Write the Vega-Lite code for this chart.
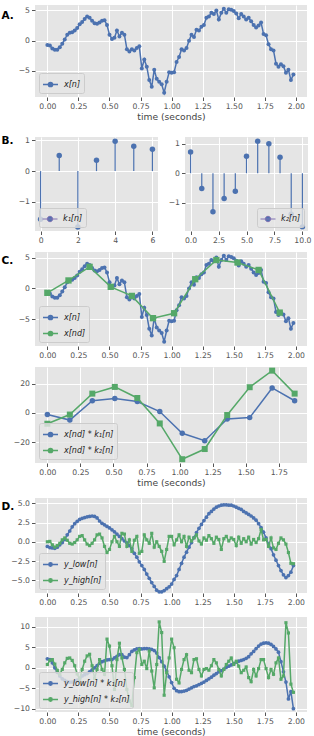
{
"$schema": "https://vega.github.io/schema/vega-lite/v6.json",
"padding": {"left": 1, "top": 5, "right": 5, "bottom": 0},
"datasets": {
"xn": [{"t":0,"v":-0.7},{"t":0.02,"v":-0.8},{"t":0.04,"v":-1.3},{"t":0.06,"v":-1.5},{"t":0.08,"v":-1.5},{"t":0.1,"v":-1.1},{"t":0.12,"v":-0.5},{"t":0.14,"v":0.2},{"t":0.16,"v":1.0},{"t":0.18,"v":1.3},
{"t":0.2,"v":1.4},{"t":0.22,"v":1.7},{"t":0.24,"v":2.1},{"t":0.26,"v":2.7},{"t":0.28,"v":3.1},{"t":0.3,"v":3.6},{"t":0.32,"v":4.0},{"t":0.34,"v":3.8},{"t":0.36,"v":3.3},{"t":0.38,"v":2.9},
{"t":0.4,"v":2.8},{"t":0.42,"v":3.0},{"t":0.44,"v":3.3},{"t":0.46,"v":3.4},{"t":0.48,"v":2.6},{"t":0.5,"v":1.0},{"t":0.52,"v":0.3},{"t":0.54,"v":0.5},{"t":0.56,"v":1.7},{"t":0.58,"v":0.7},
{"t":0.6,"v":1.3},{"t":0.62,"v":1.0},{"t":0.64,"v":-1.4},{"t":0.66,"v":-1.8},{"t":0.68,"v":-1.4},{"t":0.7,"v":-1.6},{"t":0.72,"v":-1.2},{"t":0.74,"v":-0.9},{"t":0.76,"v":-4.6},{"t":0.78,"v":-3.1},
{"t":0.8,"v":-4.3},{"t":0.82,"v":-6.5},{"t":0.84,"v":-7.6},{"t":0.86,"v":-4.8},{"t":0.88,"v":-6.3},{"t":0.9,"v":-6.8},{"t":0.92,"v":-7.2},{"t":0.94,"v":-8.6},{"t":0.96,"v":-6.8},{"t":0.98,"v":-5.2},
{"t":1.0,"v":-5.3},{"t":1.02,"v":-5.2},{"t":1.04,"v":-3.5},{"t":1.06,"v":-2.7},{"t":1.08,"v":-1.4},{"t":1.1,"v":-1.6},{"t":1.12,"v":-1.2},{"t":1.14,"v":0.0},{"t":1.16,"v":1.0},{"t":1.18,"v":0.6},
{"t":1.2,"v":1.8},{"t":1.22,"v":1.7},{"t":1.24,"v":2.3},{"t":1.26,"v":2.6},{"t":1.28,"v":3.8},{"t":1.3,"v":4.0},{"t":1.32,"v":4.6},{"t":1.34,"v":4.4},{"t":1.36,"v":5.0},{"t":1.38,"v":3.5},
{"t":1.4,"v":4.6},{"t":1.42,"v":5.3},{"t":1.44,"v":4.6},{"t":1.46,"v":5.2},{"t":1.48,"v":5.1},{"t":1.5,"v":4.9},{"t":1.52,"v":4.5},{"t":1.54,"v":3.7},{"t":1.56,"v":4.4},{"t":1.58,"v":4.0},
{"t":1.6,"v":3.5},{"t":1.62,"v":3.8},{"t":1.64,"v":3.2},{"t":1.66,"v":2.6},{"t":1.68,"v":2.2},{"t":1.7,"v":2.5},{"t":1.72,"v":3.0},{"t":1.74,"v":1.1},{"t":1.76,"v":0.9},{"t":1.78,"v":-0.6},
{"t":1.8,"v":-1.4},{"t":1.82,"v":-1.6},{"t":1.84,"v":-3.8},{"t":1.86,"v":-4.3},{"t":1.88,"v":-3.9},{"t":1.9,"v":-4.2},{"t":1.92,"v":-5.3},{"t":1.94,"v":-4.8},{"t":1.96,"v":-6.5},{"t":1.98,"v":-5.6}],
"xnd": [{"t":0,"v":-0.7},{"t":0.17,"v":1.3},{"t":0.34,"v":3.5},{"t":0.51,"v":0.27},{"t":0.68,"v":-1.2},{"t":0.85,"v":-4.8},{"t":1.02,"v":-4.0},{"t":1.19,"v":1.5},{"t":1.36,"v":4.6},{"t":1.53,"v":4.2},{"t":1.7,"v":3.0},{"t":1.87,"v":-3.9}],
"k1": [{"n":0,"v":-1.57},{"n":1,"v":0.51},{"n":2,"v":-1.82},{"n":3,"v":0.35},{"n":4,"v":0.97},{"n":5,"v":0.81},{"n":6,"v":0.71}],
"k2": [{"n":0,"v":0.72},{"n":1,"v":-0.52},{"n":2,"v":-1.31},{"n":3,"v":-0.86},{"n":4,"v":-0.61},{"n":5,"v":0.58},{"n":6,"v":1.09},{"n":7,"v":1.0},{"n":8,"v":0.54},{"n":9,"v":-1.39},{"n":10,"v":-1.82}],
"conv": [{"t":0,"a":-1.1,"b":-7.4},{"t":0.17,"a":-4.9,"b":-1.1},{"t":0.34,"a":8.4,"b":13.3},{"t":0.51,"a":10.0,"b":17.9},{"t":0.68,"a":7.9,"b":10.3},{"t":0.85,"a":1.0,"b":-7.2},{"t":1.02,"a":-14.0,"b":-31.8},{"t":1.19,"a":-19.1,"b":-24.8},{"t":1.36,"a":-4.2,"b":-1.4},{"t":1.53,"a":-3.2,"b":17.7},{"t":1.7,"a":17.2,"b":29.1},{"t":1.87,"a":8.4,"b":13.3}],
"d": [{"t":0,"lo":-0.6,"hi":0,"lk":2.2,"hk":0.8},{"t":0.02,"lo":-0.75,"hi":0.05,"lk":2,"hk":1.8},{"t":0.04,"lo":-0.8,"hi":-0.4,"lk":1.2,"hk":2},{"t":0.06,"lo":-0.85,"hi":-0.7,"lk":0,"hk":0.9},{"t":0.08,"lo":-0.7,"hi":-0.5,"lk":-1.1,"hk":-0.6},{"t":0.1,"lo":-0.4,"hi":-0.2,"lk":-2,"hk":-1.6},{"t":0.12,"lo":-0.1,"hi":0.25,"lk":-2.7,"hk":-0.4},{"t":0.14,"lo":0.3,"hi":0.5,"lk":-3.1,"hk":1.2},{"t":0.16,"lo":0.9,"hi":0.2,"lk":-3.4,"hk":2.3},{"t":0.18,"lo":1.4,"hi":-0.2,"lk":-3.5,"hk":2.4},
{"t":0.2,"lo":1.95,"hi":-0.3,"lk":-3.5,"hk":1.8},{"t":0.22,"lo":2.35,"hi":-0.1,"lk":-3.35,"hk":0.5},{"t":0.24,"lo":2.65,"hi":0.25,"lk":-3,"hk":-1.5},{"t":0.26,"lo":2.9,"hi":0.7,"lk":-2.6,"hk":-2.8},{"t":0.28,"lo":3.05,"hi":0.8,"lk":-2,"hk":-0.4},{"t":0.3,"lo":3.15,"hi":0.25,"lk":-1.7,"hk":1.6},{"t":0.32,"lo":3.25,"hi":-0.3,"lk":-1.4,"hk":2.9},{"t":0.34,"lo":3.3,"hi":-0.5,"lk":-1,"hk":3.3},{"t":0.36,"lo":3.35,"hi":-0.2,"lk":-0.5,"hk":0.5},{"t":0.38,"lo":3.3,"hi":0.25,"lk":0,"hk":-2.6},
{"t":0.4,"lo":3.1,"hi":0.9,"lk":0.5,"hk":-0.4},{"t":0.42,"lo":2.7,"hi":1,"lk":1.1,"hk":2},{"t":0.44,"lo":2.4,"hi":0.5,"lk":1.5,"hk":-0.4},{"t":0.46,"lo":2.2,"hi":-0.6,"lk":1.7,"hk":-1.6},{"t":0.48,"lo":2,"hi":-1.4,"lk":1.9,"hk":7},{"t":0.5,"lo":1.8,"hi":-1,"lk":2,"hk":5.3},{"t":0.52,"lo":1.55,"hi":0,"lk":2,"hk":0.5},{"t":0.54,"lo":1.3,"hi":0.7,"lk":2.4,"hk":-5.3},{"t":0.56,"lo":1,"hi":0,"lk":2.8,"hk":2},{"t":0.58,"lo":0.7,"hi":-0.6,"lk":3.2,"hk":6},
{"t":0.6,"lo":0.4,"hi":1.1,"lk":3.2,"hk":2.4},{"t":0.62,"lo":0.1,"hi":1,"lk":2.6,"hk":-0.4},{"t":0.64,"lo":-0.15,"hi":-0.6,"lk":2.5,"hk":-5.3},{"t":0.66,"lo":-0.5,"hi":0.25,"lk":3.2,"hk":-8.1},{"t":0.68,"lo":-0.9,"hi":-1.25,"lk":4,"hk":-9.2},{"t":0.7,"lo":-1.5,"hi":0.2,"lk":4.4,"hk":-2.4},{"t":0.72,"lo":-2,"hi":0.7,"lk":4.6,"hk":3.7},{"t":0.74,"lo":-2.6,"hi":-1.5,"lk":4.7,"hk":4.5},{"t":0.76,"lo":-3.1,"hi":-1.25,"lk":4.6,"hk":0.8},{"t":0.78,"lo":-3.6,"hi":0.9,"lk":4.7,"hk":1.6},
{"t":0.8,"lo":-4.2,"hi":0.25,"lk":4.7,"hk":-0.2},{"t":0.82,"lo":-4.75,"hi":-0.2,"lk":4.6,"hk":4.1},{"t":0.84,"lo":-5.3,"hi":1.1,"lk":4.5,"hk":-0.8},{"t":0.86,"lo":-5.8,"hi":-0.7,"lk":4.2,"hk":-4.9},{"t":0.88,"lo":-6.3,"hi":0,"lk":3.6,"hk":0.8},{"t":0.9,"lo":-6.5,"hi":-0.6,"lk":2.5,"hk":11.2},{"t":0.92,"lo":-6.5,"hi":-1.25,"lk":1.5,"hk":8.6},{"t":0.94,"lo":-6.35,"hi":-2.55,"lk":0.4,"hk":-6.7},{"t":0.96,"lo":-6.1,"hi":-1,"lk":-0.8,"hk":-1.2},{"t":0.98,"lo":-5.85,"hi":0.7,"lk":-2.2,"hk":2.4},
{"t":1,"lo":-5.5,"hi":0.7,"lk":-3.6,"hk":7},{"t":1.02,"lo":-4.9,"hi":-0.4,"lk":-5,"hk":4.9},{"t":1.04,"lo":-4.4,"hi":0.25,"lk":-5.6,"hk":-2.8},{"t":1.06,"lo":-3.6,"hi":0.9,"lk":-5.85,"hk":-3.7},{"t":1.08,"lo":-2.8,"hi":0,"lk":-5.8,"hk":-0.4},{"t":1.1,"lo":-2,"hi":0.7,"lk":-5.7,"hk":2},{"t":1.12,"lo":-1.35,"hi":-0.6,"lk":-5.5,"hk":3.2},{"t":1.14,"lo":-0.7,"hi":0.6,"lk":-5.2,"hk":-0.6},{"t":1.16,"lo":-0.1,"hi":0.1,"lk":-4.9,"hk":-1.2},{"t":1.18,"lo":0.55,"hi":0.5,"lk":-4.6,"hk":2},
{"t":1.2,"lo":1.2,"hi":0.9,"lk":-4.4,"hk":2.2},{"t":1.22,"lo":1.75,"hi":0.1,"lk":-4.1,"hk":-0.4},{"t":1.24,"lo":2.25,"hi":-0.3,"lk":-3.8,"hk":-2},{"t":1.26,"lo":2.75,"hi":0.5,"lk":-3.5,"hk":-0.4},{"t":1.28,"lo":3.2,"hi":0.2,"lk":-3.1,"hk":-0.2},{"t":1.3,"lo":3.65,"hi":0.8,"lk":-2.7,"hk":-0.6},{"t":1.32,"lo":3.95,"hi":0.4,"lk":-2.3,"hk":0.5},{"t":1.34,"lo":4.25,"hi":-0.2,"lk":-1.8,"hk":2},{"t":1.36,"lo":4.5,"hi":0.6,"lk":-1.4,"hk":1.2},{"t":1.38,"lo":4.65,"hi":0.3,"lk":-1,"hk":-0.4},
{"t":1.4,"lo":4.75,"hi":-1,"lk":-0.7,"hk":-2},{"t":1.42,"lo":4.8,"hi":0.4,"lk":-0.3,"hk":-0.4},{"t":1.44,"lo":4.8,"hi":0.7,"lk":0.1,"hk":0.8},{"t":1.46,"lo":4.75,"hi":0.1,"lk":0.4,"hk":1.6},{"t":1.48,"lo":4.75,"hi":0.5,"lk":0.7,"hk":2.4},{"t":1.5,"lo":4.65,"hi":0.3,"lk":1,"hk":0.8},{"t":1.52,"lo":4.5,"hi":-0.5,"lk":1.4,"hk":1.6},{"t":1.54,"lo":4.35,"hi":0.6,"lk":1.6,"hk":0.4},{"t":1.56,"lo":4.2,"hi":-0.2,"lk":1.8,"hk":-1.2},{"t":1.58,"lo":3.95,"hi":0.4,"lk":2,"hk":-0.6},
{"t":1.6,"lo":3.75,"hi":0,"lk":2.3,"hk":0.2},{"t":1.62,"lo":3.55,"hi":0.6,"lk":2.7,"hk":-2.4},{"t":1.64,"lo":3.35,"hi":-0.3,"lk":3.4,"hk":-3.4},{"t":1.66,"lo":3.1,"hi":0.3,"lk":4,"hk":-0.4},{"t":1.68,"lo":2.8,"hi":-0.1,"lk":4.7,"hk":-2},{"t":1.7,"lo":2.35,"hi":0.4,"lk":5.3,"hk":-0.2},{"t":1.72,"lo":1.85,"hi":1.6,"lk":5.8,"hk":2},{"t":1.74,"lo":1.25,"hi":0.25,"lk":6,"hk":2},{"t":1.76,"lo":0.5,"hi":0.3,"lk":6.1,"hk":-0.2},{"t":1.78,"lo":-0.3,"hi":-0.6,"lk":6,"hk":-2.4},
{"t":1.8,"lo":-0.9,"hi":0.5,"lk":5.7,"hk":-0.4},{"t":1.82,"lo":-1.7,"hi":-0.8,"lk":5.2,"hk":-1.6},{"t":1.84,"lo":-2.4,"hi":-1,"lk":4.6,"hk":1.2},{"t":1.86,"lo":-3.1,"hi":-0.2,"lk":3.8,"hk":2.4},{"t":1.88,"lo":-3.75,"hi":0.5,"lk":1.5,"hk":-2.8},{"t":1.9,"lo":-4.3,"hi":0.25,"lk":-1,"hk":-2},{"t":1.92,"lo":-4.65,"hi":-0.3,"lk":-3.5,"hk":11},{"t":1.94,"lo":-4.4,"hi":-1.4,"lk":-7.6,"hk":8.5},{"t":1.96,"lo":-3.95,"hi":-2.8,"lk":-5.8,"hk":-4},{"t":1.98,"lo":-3.1,"hi":-2.85,"lk":-10,"hk":-6}]
},
"spacing": 13,
"resolve": {"scale": {"color": "independent"}, "legend": {"color": "independent"}},
"vconcat": [
{
 "width": 272, "height": 92,
 "data": {"name": "xn"},
 "mark": {"type": "line", "strokeWidth": 1.5, "point": {"filled": true, "size": 16, "opacity": 1}},
 "encoding": {
  "x": {"field": "t", "type": "quantitative", "scale": {"domain": [-0.0995, 2.0895], "nice": false, "zero": false}, "axis": {"values": [0,0.25,0.5,0.75,1,1.25,1.5,1.75,2], "format": ".2f", "title": "time (seconds)"}},
  "y": {"field": "v", "type": "quantitative", "scale": {"domain": [-9.3, 5.9], "nice": false, "zero": false}, "axis": {"values": [-5,0,5], "format": "d", "title": "A.", "titleAngle": 0, "titleAlign": "left", "titleBaseline": "middle", "titleX": -34, "titleY": 10, "titleFontSize": 10.5, "titleFontWeight": "bold", "titleColor": "#000000"}},
  "color": {"datum": "x[n]", "scale": {"range": ["#4C72B0"]}, "legend": {"title": null, "orient": "bottom-left", "symbolFillColor": "#4C72B0", "symbolType": "M-1,0H1M0.28,0A0.28,0.28,0,1,1,-0.28,0A0.28,0.28,0,1,1,0.28,0M0.13,0A0.13,0.13,0,1,1,-0.13,0A0.13,0.13,0,1,1,0.13,0"}}
 }
},
{
 "spacing": 10,
 "resolve": {"scale": {"color": "independent"}, "legend": {"color": "independent"}},
 "vconcat": [
 {
  "spacing": 7,
  "resolve": {"scale": {"color": "independent"}, "legend": {"color": "independent"}},
  "vconcat": [
  {
   "spacing": 10,
   "resolve": {"scale": {"color": "independent"}, "legend": {"color": "independent"}},
   "hconcat": [
   {
    "width": 123, "height": 94,
    "data": {"name": "k1"},
    "encoding": {
     "x": {"field": "n", "type": "quantitative", "scale": {"domain": [-0.3, 6.3], "nice": false, "zero": false}, "axis": {"values": [0,2,4,6], "format": "d", "title": null}},
     "y": {"field": "v", "type": "quantitative", "scale": {"domain": [-1.95, 1.11], "nice": false, "zero": false}, "axis": {"values": [-1,0,1], "format": "d", "title": "B.", "titleAngle": 0, "titleAlign": "left", "titleBaseline": "middle", "titleX": -34, "titleY": 3.5, "titleFontSize": 10.5, "titleFontWeight": "bold", "titleColor": "#000000"}}
    },
    "layer": [
     {"mark": {"type": "rule", "color": "#4C72B0", "strokeWidth": 1.2}, "encoding": {"y2": {"datum": 0}}},
     {"mark": {"type": "rule", "color": "#8172B2", "strokeWidth": 1.5}, "encoding": {"x": {"aggregate": "min", "field": "n", "type": "quantitative", "scale": {"domain": [-0.3, 6.3], "nice": false, "zero": false}}, "x2": {"aggregate": "max", "field": "n"}, "y": {"datum": 0, "type": "quantitative", "scale": {"domain": [-1.95, 1.11], "nice": false, "zero": false}}}},
     {"mark": {"type": "point", "filled": true, "size": 30, "opacity": 1}, "encoding": {"color": {"datum": "k₁[n]", "scale": {"range": ["#4C72B0"]}, "legend": {"title": null, "orient": "bottom-left", "symbolType": "M-1,0H1M0.36,0A0.36,0.36,0,1,1,-0.36,0A0.36,0.36,0,1,1,0.36,0Z", "symbolFillColor": "#4C72B0", "symbolStrokeColor": "#8172B2", "symbolStrokeWidth": 1}}}}
    ]
   },
   {
    "width": 123, "height": 94,
    "data": {"name": "k2"},
    "encoding": {
     "x": {"field": "n", "type": "quantitative", "scale": {"domain": [-0.5, 10.5], "nice": false, "zero": false}, "axis": {"values": [0,2.5,5,7.5,10], "format": ".1f", "title": null}},
     "y": {"field": "v", "type": "quantitative", "scale": {"domain": [-1.96, 1.23], "nice": false, "zero": false}, "axis": {"values": [-1,0,1], "format": "d", "title": null}}
    },
    "layer": [
     {"mark": {"type": "rule", "color": "#4C72B0", "strokeWidth": 1.2}, "encoding": {"y2": {"datum": 0}}},
     {"mark": {"type": "rule", "color": "#8172B2", "strokeWidth": 1.5}, "encoding": {"x": {"aggregate": "min", "field": "n", "type": "quantitative", "scale": {"domain": [-0.5, 10.5], "nice": false, "zero": false}}, "x2": {"aggregate": "max", "field": "n"}, "y": {"datum": 0, "type": "quantitative", "scale": {"domain": [-1.96, 1.23], "nice": false, "zero": false}}}},
     {"mark": {"type": "point", "filled": true, "size": 30, "opacity": 1}, "encoding": {"color": {"datum": "k₂[n]", "scale": {"range": ["#4C72B0"]}, "legend": {"title": null, "orient": "bottom-right", "symbolType": "M-1,0H1M0.36,0A0.36,0.36,0,1,1,-0.36,0A0.36,0.36,0,1,1,0.36,0Z", "symbolFillColor": "#4C72B0", "symbolStrokeColor": "#8172B2", "symbolStrokeWidth": 1}}}}
    ]
   }
   ]
  },
  {
   "width": 272, "height": 94,
   "encoding": {
    "x": {"field": "t", "type": "quantitative", "scale": {"domain": [-0.0995, 2.0895], "nice": false, "zero": false}, "axis": {"values": [0,0.25,0.5,0.75,1,1.25,1.5,1.75,2], "format": ".2f", "title": null}},
    "y": {"field": "v", "type": "quantitative", "scale": {"domain": [-9.3, 5.9], "nice": false, "zero": false}, "axis": {"values": [-5,0,5], "format": "d", "title": "C.", "titleAngle": 0, "titleAlign": "left", "titleBaseline": "middle", "titleX": -34, "titleY": 8, "titleFontSize": 10.5, "titleFontWeight": "bold", "titleColor": "#000000"}}
   },
   "layer": [
    {"data": {"name": "xn"}, "mark": {"type": "line", "strokeWidth": 1.5, "point": {"filled": true, "size": 16, "opacity": 1}},
     "encoding": {"color": {"datum": "x[n]", "scale": {"domain": ["x[n]", "x[nd]"], "range": ["#4C72B0", "#55A868"]}, "legend": {"title": null, "orient": "bottom-left", "symbolType": "M-1,0H1M0.28,0A0.28,0.28,0,1,1,-0.28,0A0.28,0.28,0,1,1,0.28,0M0.13,0A0.13,0.13,0,1,1,-0.13,0A0.13,0.13,0,1,1,0.13,0"}}}},
    {"data": {"name": "xnd"}, "mark": {"type": "line", "strokeWidth": 1.5, "point": {"filled": true, "shape": "square", "size": 40, "opacity": 1}},
     "encoding": {"color": {"datum": "x[nd]"}}}
   ]
  },
  {
   "width": 272, "height": 96,
   "data": {"name": "conv"},
   "encoding": {
    "x": {"field": "t", "type": "quantitative", "scale": {"domain": [-0.0935, 1.9635], "nice": false, "zero": false}, "axis": {"values": [0,0.25,0.5,0.75,1,1.25,1.5,1.75], "format": ".2f", "title": "time (seconds)"}}
   },
   "layer": [
    {"mark": {"type": "line", "strokeWidth": 1.5, "point": {"filled": true, "size": 30, "opacity": 1}},
     "encoding": {"y": {"field": "a", "type": "quantitative", "scale": {"domain": [-34.4, 31.6], "nice": false, "zero": false}, "axis": {"values": [-20,0,20], "format": "d", "title": null}},
      "color": {"datum": "x[nd] * k₁[n]", "scale": {"domain": ["x[nd] * k₁[n]", "x[nd] * k₂[n]"], "range": ["#4C72B0", "#55A868"]}, "legend": {"title": null, "orient": "bottom-left", "symbolType": "M-1,0H1M0.28,0A0.28,0.28,0,1,1,-0.28,0A0.28,0.28,0,1,1,0.28,0M0.13,0A0.13,0.13,0,1,1,-0.13,0A0.13,0.13,0,1,1,0.13,0"}}}},
    {"mark": {"type": "line", "strokeWidth": 1.5, "point": {"filled": true, "shape": "square", "size": 36, "opacity": 1}},
     "encoding": {"y": {"field": "b", "type": "quantitative", "scale": {"domain": [-34.4, 31.6], "nice": false, "zero": false}, "axis": {"values": [-20,0,20], "format": "d", "title": null}},
      "color": {"datum": "x[nd] * k₂[n]"}}}
   ]
  }
  ]
 },
 {
  "width": 272, "height": 95,
  "data": {"name": "d"},
  "encoding": {
   "x": {"field": "t", "type": "quantitative", "scale": {"domain": [-0.0995, 2.0895], "nice": false, "zero": false}, "axis": {"values": [0,0.25,0.5,0.75,1,1.25,1.5,1.75,2], "format": ".2f", "title": null}}
  },
  "layer": [
   {"mark": {"type": "line", "strokeWidth": 1.5, "point": {"filled": true, "size": 14, "opacity": 1}},
    "encoding": {"y": {"field": "lo", "type": "quantitative", "scale": {"domain": [-6.66, 5.69], "nice": false, "zero": false}, "axis": {"values": [-5,-2.5,0,2.5,5], "format": ".1f", "title": "D.", "titleAngle": 0, "titleAlign": "left", "titleBaseline": "middle", "titleX": -34, "titleY": 8, "titleFontSize": 10.5, "titleFontWeight": "bold", "titleColor": "#000000"}},
     "color": {"datum": "y_low[n]", "scale": {"domain": ["y_low[n]", "y_high[n]"], "range": ["#4C72B0", "#55A868"]}, "legend": {"title": null, "orient": "bottom-left", "symbolType": "M-1,0H1M0.22,0A0.22,0.22,0,1,1,-0.22,0A0.22,0.22,0,1,1,0.22,0M0.08,0A0.08,0.08,0,1,1,-0.08,0A0.08,0.08,0,1,1,0.08,0"}}}},
   {"mark": {"type": "line", "strokeWidth": 1.5, "point": {"filled": true, "shape": "square", "size": 10, "opacity": 1}},
    "encoding": {"y": {"field": "hi", "type": "quantitative", "scale": {"domain": [-6.66, 5.69], "nice": false, "zero": false}, "axis": {"values": [-5,-2.5,0,2.5,5], "format": ".1f", "title": "D.", "titleAngle": 0, "titleAlign": "left", "titleBaseline": "middle", "titleX": -34, "titleY": 8, "titleFontSize": 10.5, "titleFontWeight": "bold", "titleColor": "#000000"}},
     "color": {"datum": "y_high[n]"}}}
  ]
 },
 {
  "width": 272, "height": 95,
  "data": {"name": "d"},
  "encoding": {
   "x": {"field": "t", "type": "quantitative", "scale": {"domain": [-0.0995, 2.0895], "nice": false, "zero": false}, "axis": {"values": [0,0.25,0.5,0.75,1,1.25,1.5,1.75,2], "format": ".2f", "title": "time (seconds)"}}
  },
  "layer": [
   {"mark": {"type": "line", "strokeWidth": 1.5, "point": {"filled": true, "size": 14, "opacity": 1}},
    "encoding": {"y": {"field": "lk", "type": "quantitative", "scale": {"domain": [-10.8, 12.4], "nice": false, "zero": false}, "axis": {"values": [-10,-5,0,5,10], "format": "d", "title": null}},
     "color": {"datum": "y_low[n] * k₁[n]", "scale": {"domain": ["y_low[n] * k₁[n]", "y_high[n] * k₂[n]"], "range": ["#4C72B0", "#55A868"]}, "legend": {"title": null, "orient": "bottom-left", "symbolType": "M-1,0H1M0.22,0A0.22,0.22,0,1,1,-0.22,0A0.22,0.22,0,1,1,0.22,0M0.08,0A0.08,0.08,0,1,1,-0.08,0A0.08,0.08,0,1,1,0.08,0"}}}},
   {"mark": {"type": "line", "strokeWidth": 1.5, "point": {"filled": true, "shape": "square", "size": 10, "opacity": 1}},
    "encoding": {"y": {"field": "hk", "type": "quantitative", "scale": {"domain": [-10.8, 12.4], "nice": false, "zero": false}, "axis": {"values": [-10,-5,0,5,10], "format": "d", "title": null}},
     "color": {"datum": "y_high[n] * k₂[n]"}}}
  ]
 }
 ]
}
],
"config": {
 "font": "DejaVu Sans",
 "view": {"fill": "#E5E5E5", "stroke": null},
 "axis": {"domain": false, "grid": true, "gridColor": "#FFFFFF", "gridWidth": 1, "tickColor": "#555555", "tickSize": 3.5, "tickWidth": 1, "labelColor": "#555555", "labelFontSize": 7.7, "labelPadding": 2, "labelFlush": false, "labelOverlap": false, "titleColor": "#444444", "titleFontSize": 9.2, "titleFontWeight": "normal", "titlePadding": 2.5},
 "legend": {"offset": 4, "fillColor": "rgba(229,229,229,0.8)", "strokeColor": "#CCCCCC", "cornerRadius": 2, "padding": 3, "labelFontSize": 8, "labelFontStyle": "italic", "labelColor": "#222222", "symbolSize": 225, "symbolStrokeWidth": 1.5, "rowPadding": 2, "labelOffset": 5}
}
}
